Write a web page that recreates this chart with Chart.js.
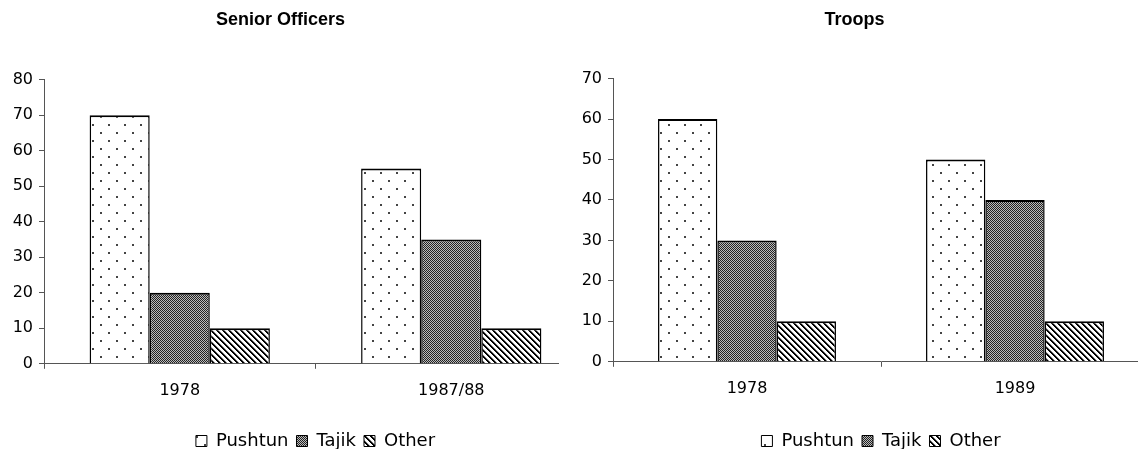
<!DOCTYPE html>
<html>
<head>
<meta charset="utf-8">
<script src="https://cdn.jsdelivr.net/npm/chart.js@4.4.1/dist/chart.umd.min.js"></script>
<style>
  html, body { margin: 0; padding: 0; background: #fff; }
  body { width: 1138px; height: 449px; position: relative; overflow: hidden; }
  .panel { position: absolute; top: 0; height: 449px; overflow: hidden; }
  #leftPanel { left: 0; width: 559px; }
  #rightPanel { left: 560px; width: 578px; }
</style>
</head>
<body>
<div class="panel" id="leftPanel"><canvas id="officers" width="600" height="449"></canvas></div>
<div class="panel" id="rightPanel"><canvas id="troops" width="600" height="449"></canvas></div>
<script>
// ===== DATA =====
const groups = ["Pushtun", "Tajik", "Other"];

const officerYears = ["1978", "1987/88"];
const officerPushtun = [70, 55];
const officerTajik = [20, 35];
const officerOther = [10, 10];
const officerMax = 80;

const troopYears = ["1978", "1989"];
const troopPushtun = [60, 50];
const troopTajik = [30, 40];
const troopOther = [10, 10];
const troopMax = 70;

const tickStep = 10;

// ===== STYLE =====
const AXIS = "#555";
const TITLE_FONT = "'Liberation Sans', Arial, sans-serif";
Chart.defaults.font.family = "'DejaVu Sans', sans-serif";
Chart.defaults.color = "#000";

// fill patterns (dots, fine checker, diagonal stripes)
function tile(w, h, paint) {
  const c = document.createElement("canvas");
  c.width = w;
  c.height = h;
  const g = c.getContext("2d");
  g.fillStyle = "#fff";
  g.fillRect(0, 0, w, h);
  paint(g, w, h);
  return g.createPattern(c, "repeat");
}

const dots = tile(16, 16, (g) => {
  g.fillStyle = "#444";
  g.fillRect(4, 4, 2, 2);
  g.fillRect(12, 12, 2, 2);
});

const checker = tile(2, 2, (g) => {
  g.fillStyle = "#bbb";
  g.fillRect(0, 0, 2, 2);
  g.fillStyle = "#222";
  g.fillRect(0, 0, 1, 1);
  g.fillRect(1, 1, 1, 1);
});

const stripes = tile(6, 6, (g, w, h) => {
  for (let x = 0; x < w; x++) {
    for (let y = 0; y < h; y++) {
      const k = (((x - y) % 6) + 6) % 6;
      if (k < 2) g.fillStyle = "#000";
      else if (k === 2) g.fillStyle = "#888";
      else continue;
      g.fillRect(x, y, 1, 1);
    }
  }
});

const fills = [dots, checker, stripes];

// put title / legend where the reference has them
const recenter = {
  id: "recenter",
  afterLayout(chart, args, opts) {
    const a = chart.chartArea;
    if (chart.legend) {
      chart.legend.left = a.left;
      chart.legend.right = a.right;
      chart.legend.width = a.right - a.left;
    }
    if (chart.titleBlock && opts.titleShift) {
      chart.titleBlock.left += opts.titleShift;
      chart.titleBlock.right += opts.titleShift;
    }
  },
};

function makeChart(id, title, years, series, yMax, o) {
  return new Chart(document.getElementById(id), {
    type: "bar",
    data: {
      labels: years,
      datasets: series.map((vals, i) => ({
        label: groups[i],
        data: vals,
        backgroundColor: fills[i],
        borderColor: "#000",
        borderWidth: { top: 2, left: 1.5, right: 1.5, bottom: 0 },
        borderSkipped: "start",
        barPercentage: 1,
        categoryPercentage: 0.664,
      })),
    },
    options: {
      responsive: false,
      animation: false,
      devicePixelRatio: 1,
      layout: { padding: { left: 0, right: o.padRight, top: 0, bottom: -11 } },
      plugins: {
        title: {
          display: true,
          text: title,
          color: "#000",
          font: { family: TITLE_FONT, size: 18, weight: "bold" },
          padding: { top: 9, bottom: o.titleGap },
        },
        legend: {
          position: "bottom",
          labels: {
            boxWidth: 11,
            boxHeight: 11,
            padding: 8,
            color: "#000",
            font: { size: 18 },
            generateLabels: (chart) =>
              chart.data.datasets.map((ds, i) => ({
                text: ds.label,
                fillStyle: ds.backgroundColor,
                strokeStyle: "#000",
                lineWidth: 1,
                hidden: false,
                datasetIndex: i,
              })),
          },
        },
        tooltip: { enabled: false },
        recenter: { titleShift: o.titleShift },
      },
      scales: {
        x: {
          grid: { display: true, drawOnChartArea: false, tickLength: 5, color: AXIS, offset: true },
          border: { color: AXIS, width: 1 },
          ticks: { padding: 12, font: { size: 16 }, color: "#000" },
          afterFit: (s) => { s.height += o.xExtra; },
        },
        y: {
          min: 0,
          max: yMax,
          ticks: { stepSize: tickStep, padding: 6, font: { size: 16 }, color: "#000" },
          grid: { drawOnChartArea: false, tickLength: 5, color: AXIS },
          border: { color: AXIS, width: 1 },
          afterFit: (s) => { s.width = o.yWidth; },
        },
      },
    },
    plugins: [recenter],
  });
}

makeChart("officers", "Senior Officers", officerYears,
  [officerPushtun, officerTajik, officerOther], officerMax,
  { padRight: 13, yWidth: 44, titleGap: 49, titleShift: -13, xExtra: 12 });

makeChart("troops", "Troops", troopYears,
  [troopPushtun, troopTajik, troopOther], troopMax,
  { padRight: 11, yWidth: 53, titleGap: 48, titleShift: 0, xExtra: 14 });
</script>
</body>
</html>
